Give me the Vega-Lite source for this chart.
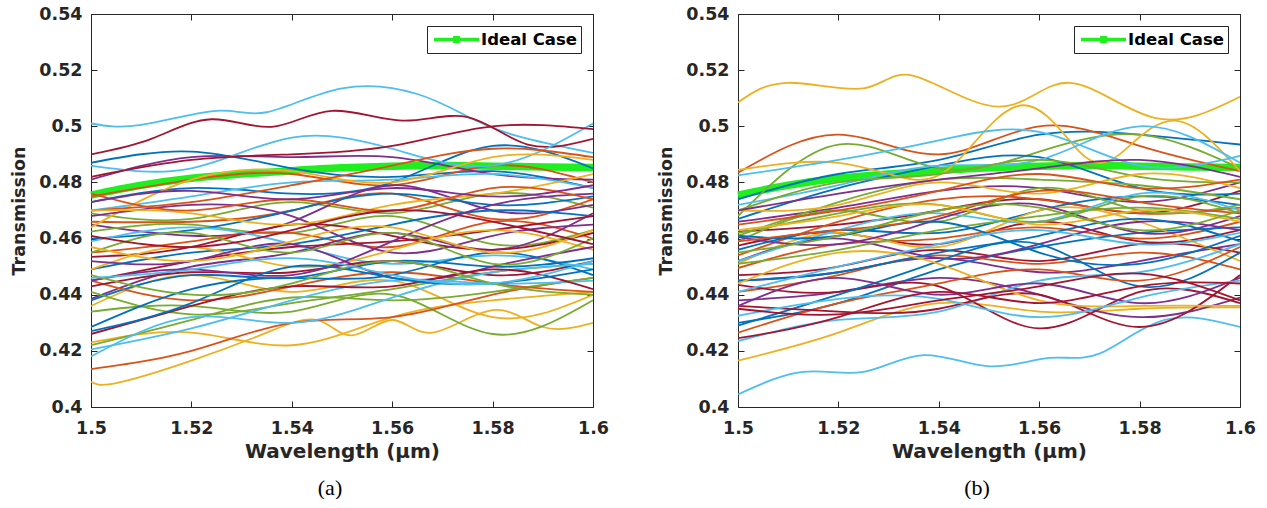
{
"$schema":"https://vega.github.io/schema/vega-lite/v6.json",
"padding":{"left":10,"top":5,"right":0,"bottom":0},
"background":"white",
"spacing":48,
"config":{
 "view":{"stroke":null},
 "axis":{"labelFont":"DejaVu Sans","labelFontWeight":"bold","labelFontSize":17.5,"labelColor":"#262626","titleFont":"DejaVu Sans","titleFontWeight":"bold","titleFontSize":17.5,"titleColor":"#262626","domainColor":"#262626","tickColor":"#262626","grid":false,"tickSize":-6,"domainWidth":1,"labelFlush":false,"labelOverlap":false},
 "legend":{"orient":"top-right","offset":12,"strokeColor":"#262626","fillColor":"white","padding":4,"symbolType":"M-3,0L3,0M-0.22,-0.22L0.22,-0.22L0.22,0.22L-0.22,0.22Z","symbolSize":225,"symbolStrokeWidth":3.5,"symbolFillColor":"#1fef1f","symbolOffset":16,"labelOffset":15,"labelFont":"DejaVu Sans","labelFontWeight":"bold","labelFontSize":16.5,"labelColor":"#000000"}
},
"datasets":{
"ideal":[{"x":1.5,"y":0.4755},{"x":1.51,"y":0.479},{"x":1.52,"y":0.4815},{"x":1.53,"y":0.483},{"x":1.54,"y":0.4842},{"x":1.55,"y":0.4852},{"x":1.56,"y":0.4858},{"x":1.57,"y":0.486},{"x":1.58,"y":0.4858},{"x":1.59,"y":0.4855},{"x":1.6,"y":0.4853}],
"a":[
{"s":1,"x":1.5,"y":0.487},{"s":1,"x":1.52,"y":0.491},{"s":1,"x":1.54,"y":0.485},{"s":1,"x":1.56,"y":0.482},{"s":1,"x":1.58,"y":0.484},{"s":1,"x":1.6,"y":0.478},
{"s":2,"x":1.5,"y":0.475},{"s":2,"x":1.52,"y":0.481},{"s":2,"x":1.54,"y":0.483},{"s":2,"x":1.56,"y":0.479},{"s":2,"x":1.58,"y":0.486},{"s":2,"x":1.6,"y":0.48},
{"s":3,"x":1.5,"y":0.409},{"s":3,"x":1.505,"y":0.4085},{"s":3,"x":1.52,"y":0.4165},{"s":3,"x":1.535,"y":0.4265},{"s":3,"x":1.545,"y":0.431},{"s":3,"x":1.552,"y":0.4255},{"s":3,"x":1.56,"y":0.431},{"s":3,"x":1.568,"y":0.4265},{"s":3,"x":1.58,"y":0.4345},{"s":3,"x":1.59,"y":0.4285},{"s":3,"x":1.6,"y":0.43},
{"s":4,"x":1.5,"y":0.481},{"s":4,"x":1.52,"y":0.489},{"s":4,"x":1.54,"y":0.489},{"s":4,"x":1.56,"y":0.489},{"s":4,"x":1.58,"y":0.483},{"s":4,"x":1.6,"y":0.481},
{"s":5,"x":1.5,"y":0.469},{"s":5,"x":1.52,"y":0.467},{"s":5,"x":1.54,"y":0.473},{"s":5,"x":1.56,"y":0.469},{"s":5,"x":1.58,"y":0.476},{"s":5,"x":1.6,"y":0.471},
{"s":6,"x":1.5,"y":0.501},{"s":6,"x":1.51,"y":0.5005},{"s":6,"x":1.525,"y":0.5055},{"s":6,"x":1.535,"y":0.505},{"s":6,"x":1.55,"y":0.5135},{"s":6,"x":1.565,"y":0.5115},{"s":6,"x":1.575,"y":0.5035},{"s":6,"x":1.585,"y":0.4965},{"s":6,"x":1.6,"y":0.4905},
{"s":7,"x":1.5,"y":0.49},{"s":7,"x":1.512,"y":0.4955},{"s":7,"x":1.524,"y":0.5025},{"s":7,"x":1.536,"y":0.4998},{"s":7,"x":1.548,"y":0.5055},{"s":7,"x":1.562,"y":0.502},{"s":7,"x":1.575,"y":0.5033},{"s":7,"x":1.587,"y":0.4935},{"s":7,"x":1.6,"y":0.4955},
{"s":8,"x":1.5,"y":0.473},{"s":8,"x":1.52,"y":0.478},{"s":8,"x":1.54,"y":0.476},{"s":8,"x":1.56,"y":0.48},{"s":8,"x":1.58,"y":0.493},{"s":8,"x":1.6,"y":0.485},
{"s":9,"x":1.5,"y":0.466},{"s":9,"x":1.52,"y":0.466},{"s":9,"x":1.54,"y":0.47},{"s":9,"x":1.56,"y":0.476},{"s":9,"x":1.58,"y":0.467},{"s":9,"x":1.6,"y":0.474},
{"s":10,"x":1.5,"y":0.423},{"s":10,"x":1.52,"y":0.4265},{"s":10,"x":1.54,"y":0.422},{"s":10,"x":1.56,"y":0.432},{"s":10,"x":1.58,"y":0.438},{"s":10,"x":1.6,"y":0.441},
{"s":11,"x":1.5,"y":0.465},{"s":11,"x":1.52,"y":0.461},{"s":11,"x":1.54,"y":0.466},{"s":11,"x":1.56,"y":0.479},{"s":11,"x":1.58,"y":0.47},{"s":11,"x":1.6,"y":0.472},
{"s":12,"x":1.5,"y":0.4625},{"s":12,"x":1.52,"y":0.465},{"s":12,"x":1.54,"y":0.462},{"s":12,"x":1.56,"y":0.468},{"s":12,"x":1.58,"y":0.458},{"s":12,"x":1.6,"y":0.463},
{"s":13,"x":1.5,"y":0.486},{"s":13,"x":1.52,"y":0.485},{"s":13,"x":1.54,"y":0.496},{"s":13,"x":1.56,"y":0.492},{"s":13,"x":1.58,"y":0.486},{"s":13,"x":1.6,"y":0.501},
{"s":14,"x":1.5,"y":0.482},{"s":14,"x":1.52,"y":0.488},{"s":14,"x":1.54,"y":0.49},{"s":14,"x":1.56,"y":0.493},{"s":14,"x":1.58,"y":0.5},{"s":14,"x":1.6,"y":0.499},
{"s":15,"x":1.5,"y":0.46},{"s":15,"x":1.52,"y":0.463},{"s":15,"x":1.54,"y":0.47},{"s":15,"x":1.56,"y":0.476},{"s":15,"x":1.58,"y":0.472},{"s":15,"x":1.6,"y":0.475},
{"s":16,"x":1.5,"y":0.455},{"s":16,"x":1.52,"y":0.459},{"s":16,"x":1.54,"y":0.462},{"s":16,"x":1.56,"y":0.457},{"s":16,"x":1.58,"y":0.466},{"s":16,"x":1.6,"y":0.46},
{"s":17,"x":1.5,"y":0.436},{"s":17,"x":1.52,"y":0.447},{"s":17,"x":1.54,"y":0.441},{"s":17,"x":1.56,"y":0.445},{"s":17,"x":1.58,"y":0.432},{"s":17,"x":1.6,"y":0.44},
{"s":18,"x":1.5,"y":0.4385},{"s":18,"x":1.52,"y":0.45},{"s":18,"x":1.54,"y":0.455},{"s":18,"x":1.56,"y":0.462},{"s":18,"x":1.58,"y":0.456},{"s":18,"x":1.6,"y":0.469},
{"s":19,"x":1.5,"y":0.434},{"s":19,"x":1.52,"y":0.436},{"s":19,"x":1.54,"y":0.434},{"s":19,"x":1.56,"y":0.44},{"s":19,"x":1.58,"y":0.426},{"s":19,"x":1.6,"y":0.438},
{"s":20,"x":1.5,"y":0.47},{"s":20,"x":1.52,"y":0.475},{"s":20,"x":1.54,"y":0.48},{"s":20,"x":1.56,"y":0.481},{"s":20,"x":1.58,"y":0.483},{"s":20,"x":1.6,"y":0.478},
{"s":21,"x":1.5,"y":0.4535},{"s":21,"x":1.52,"y":0.457},{"s":21,"x":1.54,"y":0.465},{"s":21,"x":1.56,"y":0.461},{"s":21,"x":1.58,"y":0.456},{"s":21,"x":1.6,"y":0.462},
{"s":22,"x":1.5,"y":0.449},{"s":22,"x":1.52,"y":0.455},{"s":22,"x":1.54,"y":0.458},{"s":22,"x":1.56,"y":0.465},{"s":22,"x":1.58,"y":0.47},{"s":22,"x":1.6,"y":0.468},
{"s":23,"x":1.5,"y":0.4135},{"s":23,"x":1.52,"y":0.42},{"s":23,"x":1.54,"y":0.43},{"s":23,"x":1.56,"y":0.432},{"s":23,"x":1.58,"y":0.44},{"s":23,"x":1.6,"y":0.446},
{"s":24,"x":1.5,"y":0.464},{"s":24,"x":1.52,"y":0.481},{"s":24,"x":1.54,"y":0.484},{"s":24,"x":1.56,"y":0.48},{"s":24,"x":1.58,"y":0.489},{"s":24,"x":1.6,"y":0.488},
{"s":25,"x":1.5,"y":0.468},{"s":25,"x":1.52,"y":0.472},{"s":25,"x":1.54,"y":0.468},{"s":25,"x":1.56,"y":0.455},{"s":25,"x":1.58,"y":0.461},{"s":25,"x":1.6,"y":0.465},
{"s":26,"x":1.5,"y":0.422},{"s":26,"x":1.52,"y":0.431},{"s":26,"x":1.54,"y":0.439},{"s":26,"x":1.56,"y":0.438},{"s":26,"x":1.58,"y":0.441},{"s":26,"x":1.6,"y":0.446},
{"s":27,"x":1.5,"y":0.459},{"s":27,"x":1.52,"y":0.464},{"s":27,"x":1.54,"y":0.458},{"s":27,"x":1.56,"y":0.451},{"s":27,"x":1.58,"y":0.454},{"s":27,"x":1.6,"y":0.449},
{"s":28,"x":1.5,"y":0.445},{"s":28,"x":1.52,"y":0.452},{"s":28,"x":1.54,"y":0.457},{"s":28,"x":1.56,"y":0.459},{"s":28,"x":1.58,"y":0.463},{"s":28,"x":1.6,"y":0.468},
{"s":29,"x":1.5,"y":0.438},{"s":29,"x":1.52,"y":0.447},{"s":29,"x":1.54,"y":0.446},{"s":29,"x":1.56,"y":0.452},{"s":29,"x":1.58,"y":0.45},{"s":29,"x":1.6,"y":0.453},
{"s":30,"x":1.5,"y":0.445},{"s":30,"x":1.52,"y":0.438},{"s":30,"x":1.54,"y":0.443},{"s":30,"x":1.56,"y":0.448},{"s":30,"x":1.58,"y":0.444},{"s":30,"x":1.6,"y":0.441},
{"s":31,"x":1.5,"y":0.449},{"s":31,"x":1.52,"y":0.457},{"s":31,"x":1.54,"y":0.45},{"s":31,"x":1.56,"y":0.456},{"s":31,"x":1.58,"y":0.463},{"s":31,"x":1.6,"y":0.456},
{"s":32,"x":1.5,"y":0.452},{"s":32,"x":1.52,"y":0.452},{"s":32,"x":1.54,"y":0.458},{"s":32,"x":1.56,"y":0.446},{"s":32,"x":1.58,"y":0.45},{"s":32,"x":1.6,"y":0.457},
{"s":33,"x":1.5,"y":0.441},{"s":33,"x":1.52,"y":0.433},{"s":33,"x":1.54,"y":0.437},{"s":33,"x":1.56,"y":0.442},{"s":33,"x":1.58,"y":0.448},{"s":33,"x":1.6,"y":0.451},
{"s":34,"x":1.5,"y":0.4205},{"s":34,"x":1.52,"y":0.428},{"s":34,"x":1.54,"y":0.438},{"s":34,"x":1.56,"y":0.445},{"s":34,"x":1.58,"y":0.444},{"s":34,"x":1.6,"y":0.445},
{"s":35,"x":1.5,"y":0.443},{"s":35,"x":1.52,"y":0.448},{"s":35,"x":1.54,"y":0.448},{"s":35,"x":1.56,"y":0.452},{"s":35,"x":1.58,"y":0.447},{"s":35,"x":1.6,"y":0.452},
{"s":36,"x":1.5,"y":0.4285},{"s":36,"x":1.52,"y":0.442},{"s":36,"x":1.54,"y":0.446},{"s":36,"x":1.56,"y":0.447},{"s":36,"x":1.58,"y":0.455},{"s":36,"x":1.6,"y":0.447},
{"s":37,"x":1.5,"y":0.47},{"s":37,"x":1.52,"y":0.473},{"s":37,"x":1.54,"y":0.479},{"s":37,"x":1.56,"y":0.486},{"s":37,"x":1.58,"y":0.492},{"s":37,"x":1.6,"y":0.489},
{"s":38,"x":1.5,"y":0.47},{"s":38,"x":1.52,"y":0.469},{"s":38,"x":1.54,"y":0.465},{"s":38,"x":1.56,"y":0.472},{"s":38,"x":1.58,"y":0.476},{"s":38,"x":1.6,"y":0.483},
{"s":39,"x":1.5,"y":0.445},{"s":39,"x":1.52,"y":0.449},{"s":39,"x":1.54,"y":0.447},{"s":39,"x":1.56,"y":0.459},{"s":39,"x":1.58,"y":0.472},{"s":39,"x":1.6,"y":0.476},
{"s":40,"x":1.5,"y":0.455},{"s":40,"x":1.52,"y":0.462},{"s":40,"x":1.54,"y":0.455},{"s":40,"x":1.56,"y":0.462},{"s":40,"x":1.58,"y":0.451},{"s":40,"x":1.6,"y":0.46},
{"s":41,"x":1.5,"y":0.418},{"s":41,"x":1.52,"y":0.432},{"s":41,"x":1.54,"y":0.43},{"s":41,"x":1.56,"y":0.439},{"s":41,"x":1.58,"y":0.448},{"s":41,"x":1.6,"y":0.451},
{"s":42,"x":1.5,"y":0.426},{"s":42,"x":1.52,"y":0.436},{"s":42,"x":1.54,"y":0.443},{"s":42,"x":1.56,"y":0.443},{"s":42,"x":1.58,"y":0.449},{"s":42,"x":1.6,"y":0.442},
{"s":43,"x":1.5,"y":0.427},{"s":43,"x":1.52,"y":0.437},{"s":43,"x":1.54,"y":0.45},{"s":43,"x":1.56,"y":0.446},{"s":43,"x":1.58,"y":0.444},{"s":43,"x":1.6,"y":0.449},
{"s":44,"x":1.5,"y":0.476},{"s":44,"x":1.52,"y":0.47},{"s":44,"x":1.54,"y":0.474},{"s":44,"x":1.56,"y":0.47},{"s":44,"x":1.58,"y":0.478},{"s":44,"x":1.6,"y":0.474},
{"s":45,"x":1.5,"y":0.457},{"s":45,"x":1.52,"y":0.452},{"s":45,"x":1.54,"y":0.459},{"s":45,"x":1.56,"y":0.464},{"s":45,"x":1.58,"y":0.455},{"s":45,"x":1.6,"y":0.463},
{"s":46,"x":1.5,"y":0.473},{"s":46,"x":1.52,"y":0.477},{"s":46,"x":1.54,"y":0.474},{"s":46,"x":1.56,"y":0.478},{"s":46,"x":1.58,"y":0.475},{"s":46,"x":1.6,"y":0.479},
{"s":47,"x":1.5,"y":0.447},{"s":47,"x":1.52,"y":0.44},{"s":47,"x":1.54,"y":0.444},{"s":47,"x":1.56,"y":0.452},{"s":47,"x":1.58,"y":0.444},{"s":47,"x":1.6,"y":0.44},
{"s":48,"x":1.5,"y":0.446},{"s":48,"x":1.52,"y":0.449},{"s":48,"x":1.54,"y":0.453},{"s":48,"x":1.56,"y":0.447},{"s":48,"x":1.58,"y":0.444},{"s":48,"x":1.6,"y":0.452},
{"s":49,"x":1.5,"y":0.461},{"s":49,"x":1.52,"y":0.457},{"s":49,"x":1.54,"y":0.463},{"s":49,"x":1.56,"y":0.47},{"s":49,"x":1.58,"y":0.466},{"s":49,"x":1.6,"y":0.458}
],
"b":[
{"s":1,"x":1.5,"y":0.474},{"s":1,"x":1.52,"y":0.483},{"s":1,"x":1.54,"y":0.488},{"s":1,"x":1.56,"y":0.497},{"s":1,"x":1.58,"y":0.497},{"s":1,"x":1.6,"y":0.4935},
{"s":2,"x":1.5,"y":0.4835},{"s":2,"x":1.52,"y":0.497},{"s":2,"x":1.54,"y":0.49},{"s":2,"x":1.56,"y":0.5},{"s":2,"x":1.58,"y":0.493},{"s":2,"x":1.6,"y":0.484},
{"s":3,"x":1.5,"y":0.5085},{"s":3,"x":1.51,"y":0.5155},{"s":3,"x":1.525,"y":0.5135},{"s":3,"x":1.535,"y":0.518},{"s":3,"x":1.552,"y":0.507},{"s":3,"x":1.566,"y":0.5155},{"s":3,"x":1.583,"y":0.503},{"s":3,"x":1.6,"y":0.5105},
{"s":4,"x":1.5,"y":0.466},{"s":4,"x":1.52,"y":0.471},{"s":4,"x":1.54,"y":0.477},{"s":4,"x":1.56,"y":0.478},{"s":4,"x":1.58,"y":0.473},{"s":4,"x":1.6,"y":0.48},
{"s":5,"x":1.5,"y":0.468},{"s":5,"x":1.52,"y":0.4935},{"s":5,"x":1.54,"y":0.485},{"s":5,"x":1.56,"y":0.491},{"s":5,"x":1.58,"y":0.497},{"s":5,"x":1.6,"y":0.485},
{"s":6,"x":1.5,"y":0.4045},{"s":6,"x":1.513,"y":0.4125},{"s":6,"x":1.525,"y":0.4125},{"s":6,"x":1.537,"y":0.4185},{"s":6,"x":1.55,"y":0.4145},{"s":6,"x":1.562,"y":0.4175},{"s":6,"x":1.572,"y":0.419},{"s":6,"x":1.585,"y":0.431},{"s":6,"x":1.6,"y":0.4285},
{"s":7,"x":1.5,"y":0.4625},{"s":7,"x":1.52,"y":0.465},{"s":7,"x":1.54,"y":0.47},{"s":7,"x":1.56,"y":0.474},{"s":7,"x":1.58,"y":0.469},{"s":7,"x":1.6,"y":0.477},
{"s":8,"x":1.5,"y":0.467},{"s":8,"x":1.52,"y":0.478},{"s":8,"x":1.54,"y":0.486},{"s":8,"x":1.56,"y":0.489},{"s":8,"x":1.58,"y":0.478},{"s":8,"x":1.6,"y":0.476},
{"s":9,"x":1.5,"y":0.454},{"s":9,"x":1.52,"y":0.466},{"s":9,"x":1.54,"y":0.474},{"s":9,"x":1.56,"y":0.474},{"s":9,"x":1.58,"y":0.469},{"s":9,"x":1.6,"y":0.471},
{"s":10,"x":1.5,"y":0.4845},{"s":10,"x":1.52,"y":0.487},{"s":10,"x":1.535,"y":0.481},{"s":10,"x":1.545,"y":0.49},{"s":10,"x":1.557,"y":0.5075},{"s":10,"x":1.568,"y":0.491},{"s":10,"x":1.576,"y":0.49},{"s":10,"x":1.587,"y":0.502},{"s":10,"x":1.6,"y":0.484},
{"s":11,"x":1.5,"y":0.445},{"s":11,"x":1.52,"y":0.448},{"s":11,"x":1.54,"y":0.453},{"s":11,"x":1.56,"y":0.448},{"s":11,"x":1.58,"y":0.452},{"s":11,"x":1.6,"y":0.458},
{"s":12,"x":1.5,"y":0.461},{"s":12,"x":1.52,"y":0.473},{"s":12,"x":1.54,"y":0.481},{"s":12,"x":1.56,"y":0.481},{"s":12,"x":1.58,"y":0.479},{"s":12,"x":1.6,"y":0.474},
{"s":13,"x":1.5,"y":0.4825},{"s":13,"x":1.52,"y":0.488},{"s":13,"x":1.54,"y":0.495},{"s":13,"x":1.56,"y":0.498},{"s":13,"x":1.58,"y":0.486},{"s":13,"x":1.6,"y":0.4895},
{"s":14,"x":1.5,"y":0.4575},{"s":14,"x":1.52,"y":0.462},{"s":14,"x":1.54,"y":0.458},{"s":14,"x":1.56,"y":0.466},{"s":14,"x":1.58,"y":0.459},{"s":14,"x":1.6,"y":0.463},
{"s":15,"x":1.5,"y":0.456},{"s":15,"x":1.52,"y":0.463},{"s":15,"x":1.54,"y":0.462},{"s":15,"x":1.56,"y":0.47},{"s":15,"x":1.58,"y":0.475},{"s":15,"x":1.6,"y":0.472},
{"s":16,"x":1.5,"y":0.4495},{"s":16,"x":1.52,"y":0.458},{"s":16,"x":1.54,"y":0.46},{"s":16,"x":1.56,"y":0.464},{"s":16,"x":1.58,"y":0.46},{"s":16,"x":1.6,"y":0.466},
{"s":17,"x":1.5,"y":0.4165},{"s":17,"x":1.52,"y":0.4265},{"s":17,"x":1.54,"y":0.437},{"s":17,"x":1.56,"y":0.434},{"s":17,"x":1.58,"y":0.435},{"s":17,"x":1.6,"y":0.4355},
{"s":18,"x":1.5,"y":0.438},{"s":18,"x":1.52,"y":0.441},{"s":18,"x":1.54,"y":0.446},{"s":18,"x":1.56,"y":0.44},{"s":18,"x":1.58,"y":0.432},{"s":18,"x":1.6,"y":0.439},
{"s":19,"x":1.5,"y":0.459},{"s":19,"x":1.52,"y":0.47},{"s":19,"x":1.54,"y":0.466},{"s":19,"x":1.56,"y":0.478},{"s":19,"x":1.58,"y":0.47},{"s":19,"x":1.6,"y":0.472},
{"s":20,"x":1.5,"y":0.472},{"s":20,"x":1.52,"y":0.479},{"s":20,"x":1.54,"y":0.486},{"s":20,"x":1.56,"y":0.488},{"s":20,"x":1.58,"y":0.5},{"s":20,"x":1.6,"y":0.487},
{"s":21,"x":1.5,"y":0.447},{"s":21,"x":1.52,"y":0.45},{"s":21,"x":1.54,"y":0.456},{"s":21,"x":1.56,"y":0.452},{"s":21,"x":1.58,"y":0.458},{"s":21,"x":1.6,"y":0.455},
{"s":22,"x":1.5,"y":0.43},{"s":22,"x":1.52,"y":0.437},{"s":22,"x":1.54,"y":0.449},{"s":22,"x":1.56,"y":0.457},{"s":22,"x":1.58,"y":0.462},{"s":22,"x":1.6,"y":0.464},
{"s":23,"x":1.5,"y":0.441},{"s":23,"x":1.52,"y":0.447},{"s":23,"x":1.54,"y":0.454},{"s":23,"x":1.56,"y":0.451},{"s":23,"x":1.58,"y":0.455},{"s":23,"x":1.6,"y":0.449},
{"s":24,"x":1.5,"y":0.451},{"s":24,"x":1.52,"y":0.462},{"s":24,"x":1.54,"y":0.457},{"s":24,"x":1.56,"y":0.47},{"s":24,"x":1.58,"y":0.466},{"s":24,"x":1.6,"y":0.452},
{"s":25,"x":1.5,"y":0.452},{"s":25,"x":1.52,"y":0.46},{"s":25,"x":1.54,"y":0.453},{"s":25,"x":1.56,"y":0.458},{"s":25,"x":1.58,"y":0.466},{"s":25,"x":1.6,"y":0.463},
{"s":26,"x":1.5,"y":0.47},{"s":26,"x":1.52,"y":0.48},{"s":26,"x":1.54,"y":0.483},{"s":26,"x":1.56,"y":0.488},{"s":26,"x":1.58,"y":0.482},{"s":26,"x":1.6,"y":0.48},
{"s":27,"x":1.5,"y":0.452},{"s":27,"x":1.52,"y":0.463},{"s":27,"x":1.54,"y":0.469},{"s":27,"x":1.56,"y":0.466},{"s":27,"x":1.58,"y":0.476},{"s":27,"x":1.6,"y":0.47},
{"s":28,"x":1.5,"y":0.4435},{"s":28,"x":1.52,"y":0.441},{"s":28,"x":1.54,"y":0.443},{"s":28,"x":1.56,"y":0.428},{"s":28,"x":1.58,"y":0.441},{"s":28,"x":1.6,"y":0.437},
{"s":29,"x":1.5,"y":0.429},{"s":29,"x":1.52,"y":0.44},{"s":29,"x":1.54,"y":0.452},{"s":29,"x":1.56,"y":0.458},{"s":29,"x":1.58,"y":0.443},{"s":29,"x":1.6,"y":0.455},
{"s":30,"x":1.5,"y":0.4265},{"s":30,"x":1.52,"y":0.437},{"s":30,"x":1.54,"y":0.444},{"s":30,"x":1.56,"y":0.449},{"s":30,"x":1.58,"y":0.445},{"s":30,"x":1.6,"y":0.457},
{"s":31,"x":1.5,"y":0.47},{"s":31,"x":1.52,"y":0.472},{"s":31,"x":1.54,"y":0.48},{"s":31,"x":1.56,"y":0.476},{"s":31,"x":1.58,"y":0.483},{"s":31,"x":1.6,"y":0.478},
{"s":32,"x":1.5,"y":0.4605},{"s":32,"x":1.52,"y":0.458},{"s":32,"x":1.54,"y":0.467},{"s":32,"x":1.56,"y":0.472},{"s":32,"x":1.58,"y":0.462},{"s":32,"x":1.6,"y":0.468},
{"s":33,"x":1.5,"y":0.451},{"s":33,"x":1.52,"y":0.456},{"s":33,"x":1.54,"y":0.463},{"s":33,"x":1.56,"y":0.468},{"s":33,"x":1.58,"y":0.471},{"s":33,"x":1.6,"y":0.467},
{"s":34,"x":1.5,"y":0.4235},{"s":34,"x":1.52,"y":0.431},{"s":34,"x":1.54,"y":0.434},{"s":34,"x":1.56,"y":0.445},{"s":34,"x":1.58,"y":0.448},{"s":34,"x":1.6,"y":0.458},
{"s":35,"x":1.5,"y":0.436},{"s":35,"x":1.52,"y":0.434},{"s":35,"x":1.54,"y":0.435},{"s":35,"x":1.56,"y":0.44},{"s":35,"x":1.58,"y":0.4285},{"s":35,"x":1.6,"y":0.447},
{"s":36,"x":1.5,"y":0.445},{"s":36,"x":1.52,"y":0.448},{"s":36,"x":1.54,"y":0.455},{"s":36,"x":1.56,"y":0.461},{"s":36,"x":1.58,"y":0.467},{"s":36,"x":1.6,"y":0.459},
{"s":37,"x":1.5,"y":0.465},{"s":37,"x":1.52,"y":0.47},{"s":37,"x":1.54,"y":0.477},{"s":37,"x":1.56,"y":0.483},{"s":37,"x":1.58,"y":0.478},{"s":37,"x":1.6,"y":0.481},
{"s":38,"x":1.5,"y":0.444},{"s":38,"x":1.52,"y":0.455},{"s":38,"x":1.54,"y":0.451},{"s":38,"x":1.56,"y":0.438},{"s":38,"x":1.58,"y":0.436},{"s":38,"x":1.6,"y":0.436},
{"s":39,"x":1.5,"y":0.436},{"s":39,"x":1.52,"y":0.446},{"s":39,"x":1.54,"y":0.44},{"s":39,"x":1.56,"y":0.444},{"s":39,"x":1.58,"y":0.437},{"s":39,"x":1.6,"y":0.446},
{"s":40,"x":1.5,"y":0.462},{"s":40,"x":1.52,"y":0.469},{"s":40,"x":1.54,"y":0.472},{"s":40,"x":1.56,"y":0.466},{"s":40,"x":1.58,"y":0.475},{"s":40,"x":1.6,"y":0.469},
{"s":41,"x":1.5,"y":0.4325},{"s":41,"x":1.52,"y":0.4385},{"s":41,"x":1.54,"y":0.4385},{"s":41,"x":1.56,"y":0.432},{"s":41,"x":1.58,"y":0.439},{"s":41,"x":1.6,"y":0.445},
{"s":42,"x":1.5,"y":0.435},{"s":42,"x":1.52,"y":0.433},{"s":42,"x":1.54,"y":0.438},{"s":42,"x":1.56,"y":0.443},{"s":42,"x":1.58,"y":0.4475},{"s":42,"x":1.6,"y":0.438},
{"s":43,"x":1.5,"y":0.461},{"s":43,"x":1.52,"y":0.461},{"s":43,"x":1.54,"y":0.466},{"s":43,"x":1.56,"y":0.455},{"s":43,"x":1.58,"y":0.451},{"s":43,"x":1.6,"y":0.461},
{"s":44,"x":1.5,"y":0.459},{"s":44,"x":1.52,"y":0.463},{"s":44,"x":1.54,"y":0.468},{"s":44,"x":1.56,"y":0.477},{"s":44,"x":1.58,"y":0.473},{"s":44,"x":1.6,"y":0.469},
{"s":45,"x":1.5,"y":0.463},{"s":45,"x":1.52,"y":0.468},{"s":45,"x":1.54,"y":0.472},{"s":45,"x":1.56,"y":0.465},{"s":45,"x":1.58,"y":0.47},{"s":45,"x":1.6,"y":0.466},
{"s":46,"x":1.5,"y":0.47},{"s":46,"x":1.52,"y":0.476},{"s":46,"x":1.54,"y":0.481},{"s":46,"x":1.56,"y":0.485},{"s":46,"x":1.58,"y":0.488},{"s":46,"x":1.6,"y":0.482},
{"s":47,"x":1.5,"y":0.455},{"s":47,"x":1.52,"y":0.461},{"s":47,"x":1.54,"y":0.47},{"s":47,"x":1.56,"y":0.471},{"s":47,"x":1.58,"y":0.463},{"s":47,"x":1.6,"y":0.47},
{"s":48,"x":1.5,"y":0.441},{"s":48,"x":1.52,"y":0.45},{"s":48,"x":1.54,"y":0.458},{"s":48,"x":1.56,"y":0.463},{"s":48,"x":1.58,"y":0.458},{"s":48,"x":1.6,"y":0.462},
{"s":49,"x":1.5,"y":0.4245},{"s":49,"x":1.52,"y":0.432},{"s":49,"x":1.54,"y":0.441},{"s":49,"x":1.56,"y":0.437},{"s":49,"x":1.58,"y":0.443},{"s":49,"x":1.6,"y":0.444}
]
},
"hconcat":[
{
 "width":502,"height":393,
 "title":{"text":"(a)","orient":"bottom","font":"Liberation Serif","fontSize":22,"fontWeight":"normal","color":"#000000","dx":-12,"offset":16},
 "layer":[
  {"data":{"name":"ideal"},"mark":{"type":"line","strokeWidth":7.5,"interpolate":"monotone"},
   "encoding":{
    "x":{"field":"x","type":"quantitative","scale":{"domain":[1.5,1.6],"nice":false,"zero":false},"axis":{"orient":"top","values":[1.5,1.52,1.54,1.56,1.58,1.6],"labels":false,"title":null}},
    "y":{"field":"y","type":"quantitative","scale":{"domain":[0.4,0.54],"nice":false,"zero":false},"axis":{"orient":"right","values":[0.4,0.42,0.44,0.46,0.48,0.5,0.52,0.54],"labels":false,"title":null}},
    "color":{"datum":"Ideal Case","scale":{"range":["#1fef1f"]},"legend":{"title":null}}
   }},
  {"data":{"name":"a"},"mark":{"type":"line","strokeWidth":1.8,"interpolate":"natural","clip":true},
   "encoding":{
    "x":{"field":"x","type":"quantitative","scale":{"domain":[1.5,1.6],"nice":false,"zero":false},"axis":{"orient":"bottom","values":[1.5,1.52,1.54,1.56,1.58,1.6],"format":"~g","title":"Wavelength (μm)","titleFontSize":20,"labelPadding":18,"titlePadding":5}},
    "y":{"field":"y","type":"quantitative","scale":{"domain":[0.4,0.54],"nice":false,"zero":false},"axis":{"orient":"left","values":[0.4,0.42,0.44,0.46,0.48,0.5,0.52,0.54],"format":"~g","title":"Transmission","labelPadding":15,"titlePadding":10}},
    "color":{"field":"s","type":"nominal","scale":{"range":["#0072BD","#D95319","#EDB120","#7E2F8E","#77AC30","#4DBEEE","#A2142F"]},"legend":null}
   }}
 ],
 "resolve":{"axis":{"x":"independent","y":"independent"},"scale":{"color":"independent"}}
},
{
 "width":502,"height":393,
 "title":{"text":"(b)","orient":"bottom","font":"Liberation Serif","fontSize":22,"fontWeight":"normal","color":"#000000","dx":-12,"offset":16},
 "layer":[
  {"data":{"name":"ideal"},"mark":{"type":"line","strokeWidth":7.5,"interpolate":"monotone"},
   "encoding":{
    "x":{"field":"x","type":"quantitative","scale":{"domain":[1.5,1.6],"nice":false,"zero":false},"axis":{"orient":"top","values":[1.5,1.52,1.54,1.56,1.58,1.6],"labels":false,"title":null}},
    "y":{"field":"y","type":"quantitative","scale":{"domain":[0.4,0.54],"nice":false,"zero":false},"axis":{"orient":"right","values":[0.4,0.42,0.44,0.46,0.48,0.5,0.52,0.54],"labels":false,"title":null}},
    "color":{"datum":"Ideal Case","scale":{"range":["#1fef1f"]},"legend":{"title":null}}
   }},
  {"data":{"name":"b"},"mark":{"type":"line","strokeWidth":1.8,"interpolate":"natural","clip":true},
   "encoding":{
    "x":{"field":"x","type":"quantitative","scale":{"domain":[1.5,1.6],"nice":false,"zero":false},"axis":{"orient":"bottom","values":[1.5,1.52,1.54,1.56,1.58,1.6],"format":"~g","title":"Wavelength (μm)","titleFontSize":20,"labelPadding":18,"titlePadding":5}},
    "y":{"field":"y","type":"quantitative","scale":{"domain":[0.4,0.54],"nice":false,"zero":false},"axis":{"orient":"left","values":[0.4,0.42,0.44,0.46,0.48,0.5,0.52,0.54],"format":"~g","title":"Transmission","labelPadding":15,"titlePadding":10}},
    "color":{"field":"s","type":"nominal","scale":{"range":["#0072BD","#D95319","#EDB120","#7E2F8E","#77AC30","#4DBEEE","#A2142F"]},"legend":null}
   }}
 ],
 "resolve":{"axis":{"x":"independent","y":"independent"},"scale":{"color":"independent"}}
}
]
}
